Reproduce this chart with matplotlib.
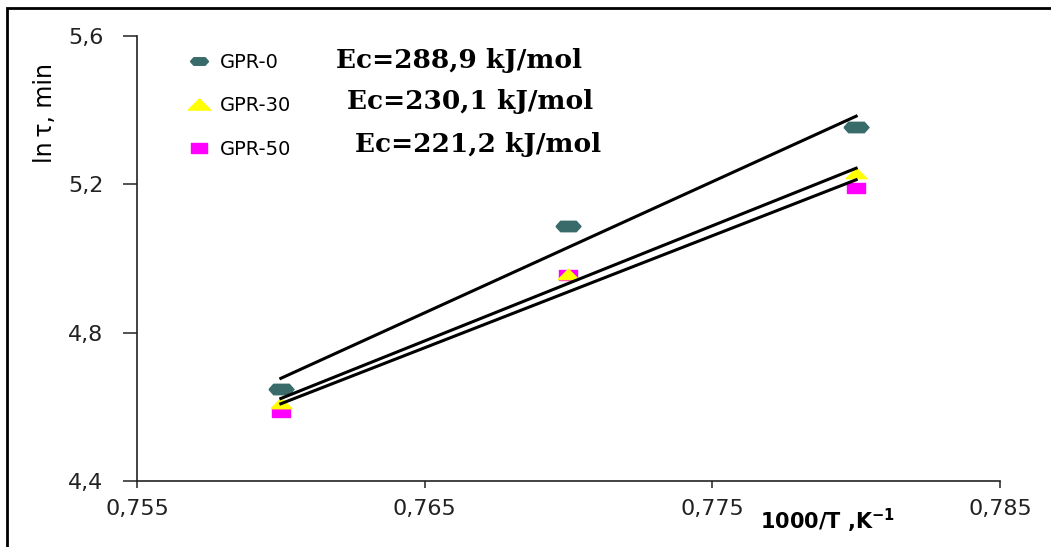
import matplotlib
matplotlib.use('Agg')
import matplotlib.pyplot as plt
from matplotlib.lines import Line2D
from matplotlib.patches import Rectangle
import numpy as np

# data
inv_T = [0.760, 0.770, 0.780]
gpr0 = [4.648, 5.088, 5.355]
gpr30 = [4.610, 4.958, 5.231]
gpr50 = [4.586, 4.955, 5.190]

names = ['GPR-0', 'GPR-30', 'GPR-50']
energies = ['Ec=288,9 kJ/mol', 'Ec=230,1 kJ/mol', 'Ec=221,2 kJ/mol']

x_ticks = [0.755, 0.765, 0.775, 0.785]
x_tick_labels = ['0,755', '0,765', '0,775', '0,785']
y_ticks = [4.4, 4.8, 5.2, 5.6]
y_tick_labels = ['4,4', '4,8', '5,2', '5,6']

teal = '#3a6b6b'
yellow = '#ffff00'
magenta = '#ff00ff'

# flattened marker shapes (the original picture is stretched sideways)
flat_hex = [(-1.2, 0), (-0.75, 0.5), (0.75, 0.5), (1.2, 0), (0.75, -0.5), (-0.75, -0.5), (-1.2, 0)]
flat_tri = [(-1, -0.5), (1, -0.5), (0, 0.5), (-1, -0.5)]
flat_sq = [(-0.85, -0.5), (0.85, -0.5), (0.85, 0.5), (-0.85, 0.5), (-0.85, -0.5)]

plt.rcParams['font.family'] = ['DejaVu Sans']

fig = plt.figure(figsize=(10.51, 5.47), dpi=100)
ax = fig.add_axes([137 / 1051, 1 - 481 / 547, 863 / 1051, 445 / 547])

ax.plot(inv_T, gpr0, linestyle='none', marker=flat_hex, markersize=18,
        color=teal, zorder=3)
ax.plot(inv_T, gpr50, linestyle='none', marker=flat_sq, markersize=13,
        color=magenta, zorder=3)
ax.plot(inv_T, gpr30, linestyle='none', marker=flat_tri, markersize=15,
        color=yellow, zorder=3)

# linear trend lines
xs = np.array([inv_T[0], inv_T[-1]])
for ys in [gpr0, gpr30, gpr50]:
    k, b = np.polyfit(inv_T, ys, 1)
    ax.plot(xs, k * xs + b, color='black', lw=2.2, zorder=4)

ax.set_xlim(0.755, 0.785)
ax.set_ylim(4.4, 5.6)
ax.set_xticks(x_ticks)
ax.set_xticklabels(x_tick_labels)
ax.set_yticks(y_ticks)
ax.set_yticklabels(y_tick_labels)
ax.tick_params(axis='x', direction='out', length=5, width=1.1, pad=8,
               labelsize=16, colors='#222222')
ax.tick_params(axis='y', direction='out', length=10, width=1.1, pad=14,
               labelsize=16, colors='#222222')
for s in ['top', 'right']:
    ax.spines[s].set_visible(False)
for s in ['left', 'bottom']:
    ax.spines[s].set_linewidth(1.2)
    ax.spines[s].set_color('#222222')

ax.set_ylabel('ln\u2009\u03c4, min', fontsize=17)
ax.yaxis.set_label_coords(-0.093, 0.827)
ax.set_xlabel(r'1000/T ,K$^{\mathbf{-1}}$', fontsize=15, fontweight='bold')
ax.xaxis.set_label_coords(0.80, -0.058)

handles = [
    Line2D([], [], linestyle='none', marker=flat_hex, markersize=13, color=teal),
    Line2D([], [], linestyle='none', marker=flat_tri, markersize=16, color=yellow),
    Line2D([], [], linestyle='none', marker=flat_sq, markersize=12, color=magenta),
]
ax.legend(handles, names, loc='upper left', bbox_to_anchor=(0.058, 0.962),
          frameon=False, fontsize=14, handlelength=1.2, handletextpad=0.5,
          labelspacing=1.25, borderpad=0, borderaxespad=0)

ec_x = [0.2306, 0.2433, 0.2526]
ec_y = [0.946, 0.852, 0.757]
for xe, ye, txt in zip(ec_x, ec_y, energies):
    ax.text(xe, ye, txt, transform=ax.transAxes, ha='left', va='center',
            fontsize=19, fontweight='bold', family='DejaVu Serif')

# outer frame of the original figure
fig.patches.append(Rectangle((7 / 1051, -0.05), 1.1, 1 - 8 / 547 + 0.05,
                             transform=fig.transFigure, fill=False,
                             lw=2, edgecolor='black'))

fig.savefig('out.png', dpi=100)
